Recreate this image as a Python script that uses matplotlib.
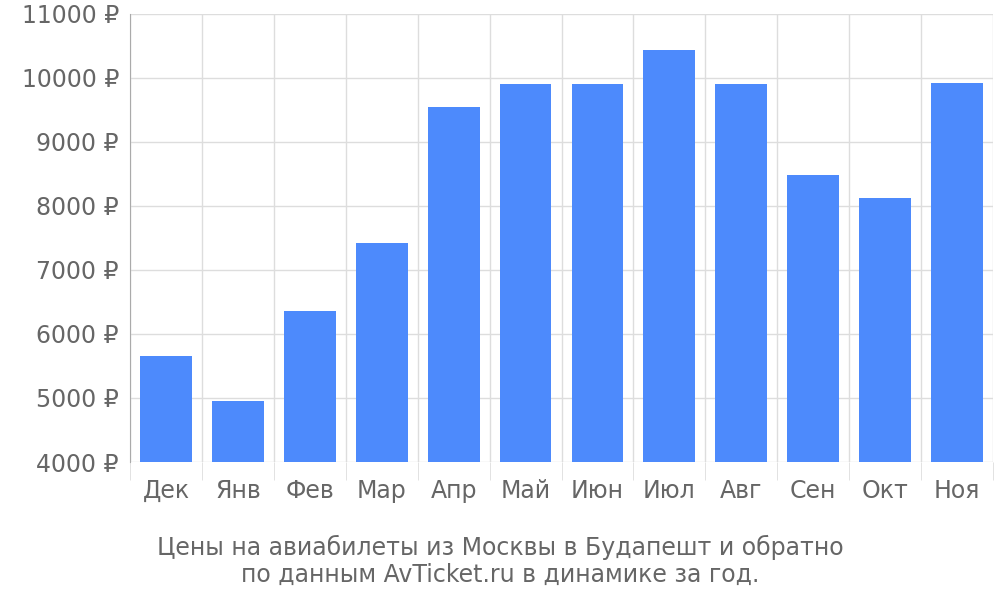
import numpy as np
import matplotlib
matplotlib.use("Agg")
import matplotlib.pyplot as plt

months = ['Дек', 'Янв', 'Фев', 'Мар', 'Апр', 'Май', 'Июн', 'Июл', 'Авг', 'Сен', 'Окт', 'Ноя']
prices = [5660, 4950, 6360, 7420, 9545, 9905, 9905, 10435, 9905, 8485, 8125, 9925]
yticks = [4000, 5000, 6000, 7000, 8000, 9000, 10000, 11000]

grey = '#666666'
grid = '#dddddd'

fig = plt.figure(figsize=(10, 6), dpi=100)
ax = fig.add_axes([0.13, 0.23, 0.863, 0.747])

x = np.arange(len(months))
ax.bar(x, np.array(prices) - 4000, bottom=4000, width=0.72, color='#4d8afc', zorder=3)

ax.set_xlim(-0.5, len(months) - 0.5)
ax.set_ylim(4000, 11000)
ax.set_yticks(yticks)
ax.set_yticklabels(['%d ₽' % v for v in yticks])
ax.set_xticks(x)
ax.set_xticklabels(months)
ax.set_xticks(np.arange(-0.5, len(months)), minor=True)

ax.grid(True, axis='y', color=grid, lw=1, zorder=0)
ax.grid(True, axis='x', which='minor', color=grid, lw=1, zorder=0)
ax.tick_params(axis='x', which='major', length=0, labelsize=17, labelcolor=grey, pad=12)
ax.tick_params(axis='x', which='minor', length=13, color=grid)
ax.tick_params(axis='y', length=0, labelsize=17, labelcolor=grey, pad=8)

for s in ['top', 'right', 'bottom']:
    ax.spines[s].set_visible(False)
ax.spines['left'].set_color('#aaaaaa')
ax.spines['left'].set_bounds(4000, 11000)

fig.text(0.5, 0.065, 'Цены на авиабилеты из Москвы в Будапешт и обратно\nпо данным AvTicket.ru в динамике за год.',
         ha='center', va='center', fontsize=17, color=grey, linespacing=1.15)

fig.savefig('out.png')
